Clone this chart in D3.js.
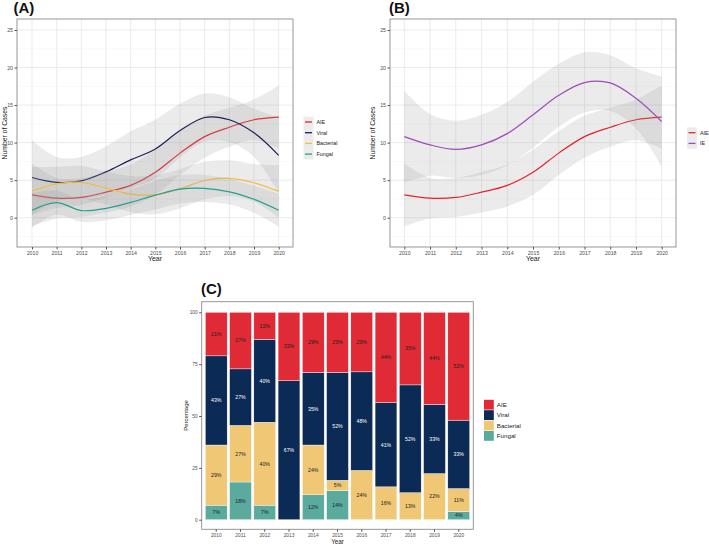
<!DOCTYPE html>
<html>
<head>
<meta charset="utf-8">
<script src="https://cdn.jsdelivr.net/npm/d3@7"></script>
<style>
  body { margin: 0; background: #fff; }
  svg { font-family: "Liberation Sans", Arial, sans-serif; }
</style>
</head>
<body>
<script>
// years on the x axis of all three panels
const years = [2010, 2011, 2012, 2013, 2014, 2015, 2016, 2017, 2018, 2019, 2020];

// panel A: smoothed number of cases per year and half-width of the grey band
const aieFit = [3.05, 2.6, 2.7, 3.4, 4.3, 6.05, 8.6, 10.8, 12.05, 13.05, 13.4];
const aieBand = [4.2, 2.7, 2.6, 2.7, 2.8, 3.0, 2.9, 2.8, 2.6, 2.7, 4.2];
const viralFit = [5.35, 4.7, 4.9, 6.1, 7.7, 9.15, 11.6, 13.35, 13.05, 11.3, 8.3];
const viralBand = [5.0, 3.4, 3.2, 3.4, 3.8, 3.9, 3.6, 3.2, 3.0, 3.2, 5.0];
const bactFit = [3.55, 4.5, 4.7, 3.95, 3.15, 3.05, 3.85, 4.95, 5.25, 4.65, 3.5];
const bactBand = [3.2, 2.3, 2.2, 2.2, 2.4, 2.6, 2.6, 2.5, 2.4, 2.5, 3.5];
const fungFit = [1.0, 2.0, 0.95, 1.25, 2.05, 3.0, 3.8, 3.9, 3.45, 2.45, 1.0];
const fungBand = [2.3, 1.6, 1.5, 1.6, 1.7, 1.9, 1.9, 1.8, 1.7, 1.8, 2.2];

// panel B: IE compared with AIE
const ieFit = [10.8, 9.7, 9.1, 9.7, 11.2, 13.7, 16.3, 18.0, 17.95, 15.9, 12.8];
const ieBand = [6.1, 4.1, 3.8, 4.0, 4.2, 4.4, 4.2, 4.0, 3.7, 4.0, 6.0];

// panel C: share of each aetiology per year (%)
const pctAIE = [21, 27, 13, 33, 29, 29, 29, 44, 35, 44, 52];
const pctViral = [43, 27, 40, 67, 35, 52, 48, 41, 52, 33, 33];
const pctBact = [29, 27, 40, 0, 24, 5, 24, 16, 13, 22, 11];
const pctFungal = [7, 18, 7, 0, 12, 14, 0, 0, 0, 0, 4];

const yTicks = [0, 5, 10, 15, 20, 25];
const yMinor = [-2.5, 2.5, 7.5, 12.5, 17.5, 22.5];
const pctTicks = [0, 25, 50, 75, 100];

const COL = {
  AIE: "#e8222b", Viral: "#1a1f58", Bacterial: "#f6bd3e", Fungal: "#25a08c", IE: "#a04ab8",
  barAIE: "#e02a35", barViral: "#0b2a55", barBact: "#f0c775", barFungal: "#5aab9e"
};

const svg = d3.select("body").append("svg").attr("width", 709).attr("height", 544);

function linePanel(opt) {
  const g = svg.append("g");
  const x = d3.scaleLinear().domain([2010, 2020]).range(opt.xr);
  const y = d3.scaleLinear().domain([0, 25]).range([217.7, 30]);
  const p = opt.panel;

  g.append("rect").attr("x", p.l).attr("y", p.t).attr("width", p.r - p.l).attr("height", p.b - p.t).attr("fill", "#fff");
  g.selectAll(".minor").data(yMinor).join("line")
    .attr("x1", p.l).attr("x2", p.r).attr("y1", d => y(d)).attr("y2", d => y(d))
    .attr("stroke", "#f2f2f2").attr("stroke-width", 0.5);
  g.selectAll(".hmaj").data(yTicks).join("line")
    .attr("x1", p.l).attr("x2", p.r).attr("y1", d => y(d)).attr("y2", d => y(d))
    .attr("stroke", "#e6e6e6").attr("stroke-width", 0.8);
  g.selectAll(".vmaj").data(years).join("line")
    .attr("x1", d => x(d)).attr("x2", d => x(d)).attr("y1", p.t).attr("y2", p.b)
    .attr("stroke", "#e6e6e6").attr("stroke-width", 0.8);

  const curve = d3.curveCatmullRom.alpha(0.5);
  opt.series.forEach(s => {
    const pts = years.map((yr, i) => ({ yr, f: s.fit[i], w: s.band[i] }));
    g.append("path").datum(pts)
      .attr("d", d3.area().curve(curve).x(d => x(d.yr)).y0(d => y(d.f - d.w)).y1(d => y(d.f + d.w)))
      .attr("fill", "#999").attr("fill-opacity", 0.2);
    g.append("path").datum(pts)
      .attr("d", d3.line().curve(curve).x(d => x(d.yr)).y(d => y(d.f)))
      .attr("fill", "none").attr("stroke", s.color).attr("stroke-width", 1.2);
  });

  g.append("rect").attr("x", p.l).attr("y", p.t).attr("width", p.r - p.l).attr("height", p.b - p.t)
    .attr("fill", "none").attr("stroke", "#8c8c8c").attr("stroke-width", 0.9);

  // axes
  g.append("g").attr("transform", `translate(${p.l},0)`)
    .call(d3.axisLeft(y).tickValues(yTicks).tickSize(2.5).tickPadding(1.5))
    .call(a => a.select(".domain").remove())
    .call(a => a.selectAll("line").attr("stroke", "#555"))
    .call(a => a.selectAll("text").attr("font-size", 5.2).attr("fill", "#4d4d4d").attr("font-family", null));
  g.append("g").attr("transform", `translate(0,${p.b})`)
    .call(d3.axisBottom(x).tickValues(years).tickFormat(d3.format("d")).tickSize(2.5).tickPadding(1.5))
    .call(a => a.select(".domain").remove())
    .call(a => a.selectAll("line").attr("stroke", "#555"))
    .call(a => a.selectAll("text").attr("font-size", 5.2).attr("fill", "#4d4d4d").attr("font-family", null));

  g.append("text").text("Year").attr("x", (p.l + p.r) / 2).attr("y", 260.5)
    .attr("text-anchor", "middle").attr("font-size", 7).attr("fill", "#222");
  g.append("text").text("Number of Cases")
    .attr("transform", `translate(${opt.ytx},${(p.t + p.b) / 2}) rotate(-90)`)
    .attr("text-anchor", "middle").attr("font-size", 6.8).attr("fill", "#222");
  g.append("text").text(opt.title).attr("x", opt.tx).attr("y", 12.5)
    .attr("font-size", 15).attr("font-weight", "bold").attr("fill", "#111");

  // legend
  const lg = g.append("g").attr("transform", `translate(${opt.legend[0]},${opt.legend[1]})`);
  opt.series.forEach((s, i) => {
    const row = lg.append("g").attr("transform", `translate(0,${i * 10.7})`);
    row.append("rect").attr("x", 0).attr("y", -5.35).attr("width", 10).attr("height", 10.7)
      .attr("fill", "#999").attr("fill-opacity", 0.2);
    row.append("line").attr("x1", 1.5).attr("x2", 8.5).attr("y1", 0).attr("y2", 0)
      .attr("stroke", s.color).attr("stroke-width", 1.3);
    row.append("text").text(s.name).attr("x", 13).attr("y", 1.9)
      .attr("font-size", 5.4).attr("fill", "#222");
  });
}

linePanel({
  title: "(A)", tx: 13.5, ytx: 6.5,
  panel: { l: 17, r: 293, t: 19, b: 247 },
  xr: [32, 278.7],
  legend: [303.5, 122],
  series: [
    { name: "AIE", fit: aieFit, band: aieBand, color: COL.AIE },
    { name: "Viral", fit: viralFit, band: viralBand, color: COL.Viral },
    { name: "Bacterial", fit: bactFit, band: bactBand, color: COL.Bacterial },
    { name: "Fungal", fit: fungFit, band: fungBand, color: COL.Fungal }
  ]
});

linePanel({
  title: "(B)", tx: 389, ytx: 375,
  panel: { l: 390, r: 676, t: 19, b: 247 },
  xr: [404.3, 661.7],
  legend: [687, 132.7],
  series: [
    { name: "AIE", fit: aieFit, band: aieBand, color: COL.AIE },
    { name: "IE", fit: ieFit, band: ieBand, color: COL.IE }
  ]
});

// ---- panel C: stacked percentage bars
const keys = ["Fungal", "Bacterial", "Viral", "AIE"];
const rows = years.map((yr, i) => ({
  year: yr, AIE: pctAIE[i], Viral: pctViral[i], Bacterial: pctBact[i], Fungal: pctFungal[i]
}));
const stacked = d3.stack().keys(keys).offset(d3.stackOffsetExpand)(rows);
const barColor = { AIE: COL.barAIE, Viral: COL.barViral, Bacterial: COL.barBact, Fungal: COL.barFungal };

const pc = { l: 201.7, r: 473.3, t: 301.7, b: 529.3 };
const xb = d3.scaleBand().domain(years).range([pc.l, pc.r]).paddingInner(0.1).paddingOuter(0.15);
const yb = d3.scaleLinear().domain([0, 100]).range([519.7, 312.3]);

const gc = svg.append("g");
gc.append("rect").attr("x", pc.l).attr("y", pc.t).attr("width", pc.r - pc.l).attr("height", pc.b - pc.t).attr("fill", "#fff");

stacked.forEach(layer => {
  const key = layer.key;
  const lg = gc.append("g");
  lg.selectAll("rect").data(layer.filter(d => d[1] - d[0] > 0)).join("rect")
    .attr("x", d => xb(d.data.year))
    .attr("width", xb.bandwidth())
    .attr("y", d => yb(d[1] * 100))
    .attr("height", d => yb(d[0] * 100) - yb(d[1] * 100))
    .attr("fill", barColor[key])
    .attr("stroke", "#fff").attr("stroke-width", 0.4);
  lg.selectAll("text").data(layer.filter(d => d.data[key] > 0)).join("text")
    .text(d => d.data[key] + "%")
    .attr("x", d => xb(d.data.year) + xb.bandwidth() / 2)
    .attr("y", d => yb((d[0] + d[1]) * 50) + 1.8)
    .attr("text-anchor", "middle").attr("font-size", 5.2)
    .attr("fill", key === "Viral" ? "#fff" : "#222");
});

gc.append("rect").attr("x", pc.l).attr("y", pc.t).attr("width", pc.r - pc.l).attr("height", pc.b - pc.t)
  .attr("fill", "none").attr("stroke", "#8c8c8c").attr("stroke-width", 0.9);

gc.append("g").attr("transform", `translate(${pc.l},0)`)
  .call(d3.axisLeft(yb).tickValues(pctTicks).tickSize(2.5).tickPadding(1.5))
  .call(a => a.select(".domain").remove())
  .call(a => a.selectAll("line").attr("stroke", "#555"))
  .call(a => a.selectAll("text").attr("font-size", 4.8).attr("fill", "#4d4d4d").attr("font-family", null));
gc.append("g").attr("transform", `translate(0,${pc.b})`)
  .call(d3.axisBottom(xb).tickSize(2.5).tickPadding(1.5))
  .call(a => a.select(".domain").remove())
  .call(a => a.selectAll("line").attr("stroke", "#555"))
  .call(a => a.selectAll("text").attr("font-size", 4.8).attr("fill", "#4d4d4d").attr("font-family", null));

gc.append("text").text("Year").attr("x", (pc.l + pc.r) / 2).attr("y", 543.5)
  .attr("text-anchor", "middle").attr("font-size", 6.3).attr("fill", "#222");
gc.append("text").text("Percentage")
  .attr("transform", `translate(${187.5},${(pc.t + pc.b) / 2}) rotate(-90)`)
  .attr("text-anchor", "middle").attr("font-size", 6).attr("fill", "#222");
gc.append("text").text("(C)").attr("x", 201).attr("y", 293.5)
  .attr("font-size", 15).attr("font-weight", "bold").attr("fill", "#111");

const legC = gc.append("g").attr("transform", "translate(484,399.5)");
["AIE", "Viral", "Bacterial", "Fungal"].forEach((k, i) => {
  legC.append("rect").attr("x", 0).attr("y", i * 10.4 + 0.3).attr("width", 9.8).attr("height", 9.8)
    .attr("fill", barColor[k]);
  legC.append("text").text(k).attr("x", 12.8).attr("y", i * 10.4 + 7.2)
    .attr("font-size", 6.2).attr("fill", "#222");
});
</script>
</body>
</html>
